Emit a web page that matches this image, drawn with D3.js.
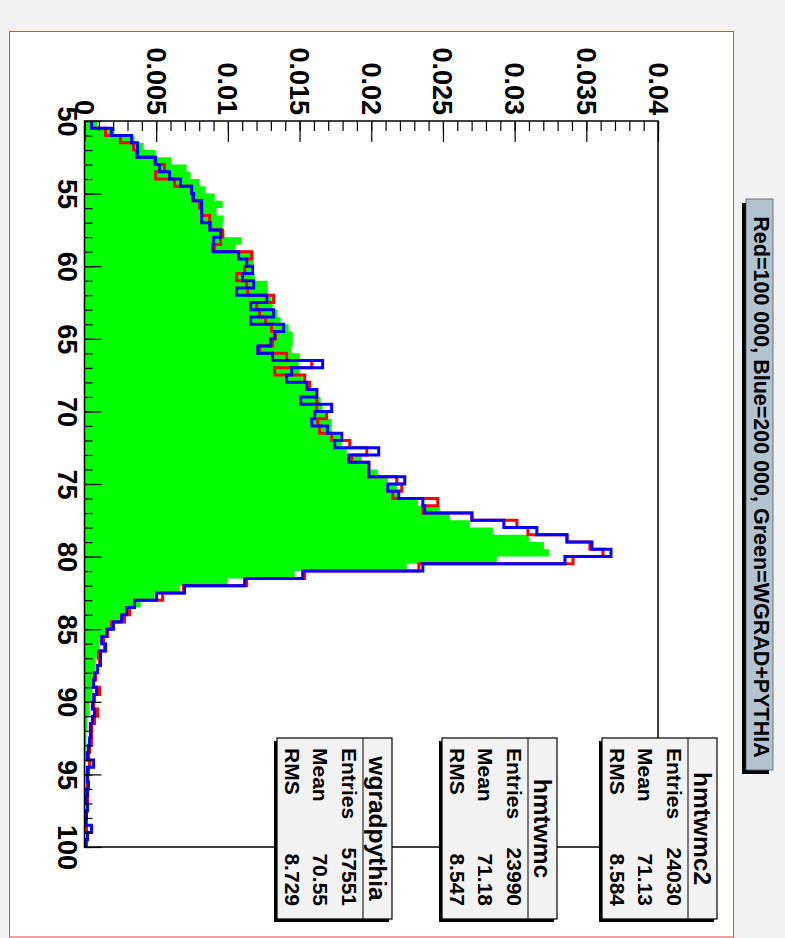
<!DOCTYPE html>
<html>
<head>
<meta charset="utf-8">
<script src="https://cdn.jsdelivr.net/npm/d3@7"></script>
<style>
  html, body { margin: 0; padding: 0; background: #f2f2f2; }
  svg text { font-family: 'Liberation Sans', Arial, Helvetica, sans-serif; font-weight: bold; fill: #000; }
</style>
</head>
<body>
<svg id="chart" width="785" height="938"></svg>
<script>
// ---------- DATA ----------
// 100 bins of width 0.5 from 50 to 100 (lower edges)
const binLow = d3.range(50, 100, 0.5);
const binWidth = 0.5;

// Red = 100 000 (hmtwmc)
const redVals = [
  0.00049, 0.00147, 0.00251, 0.00342, 0.00363, 0.00489, 0.00558, 0.00496, 0.00628, 0.00747,
  0.00754, 0.00803, 0.00817, 0.00873, 0.00880, 0.00963, 0.00949, 0.00908, 0.01166, 0.01131,
  0.01117, 0.01061, 0.01131, 0.01138, 0.01319, 0.01201, 0.01222, 0.01264, 0.01305, 0.01333,
  0.01312, 0.01222, 0.01410, 0.01585, 0.01326, 0.01536, 0.01571, 0.01620, 0.01620, 0.01620,
  0.01689, 0.01627, 0.01640, 0.01724, 0.01850, 0.01969, 0.01864, 0.01983, 0.01983, 0.02178,
  0.02213, 0.02150, 0.02464, 0.02360, 0.02702, 0.03016, 0.03093, 0.03365, 0.03525, 0.03616,
  0.03407, 0.02332, 0.01536, 0.01131, 0.00691, 0.00545, 0.00349, 0.00314, 0.00279, 0.00188,
  0.00161, 0.00133, 0.00140, 0.00098, 0.00105, 0.00091, 0.00077, 0.00063, 0.00105, 0.00070,
  0.00063, 0.00091, 0.00070, 0.00049, 0.00049, 0.00049, 0.00035, 0.00028, 0.00035, 0.00028,
  0.00021, 0.00021, 0.00014, 0.00021, 0.00021, 0.00014, 0.00014, 0.00014, 0.00021, 0.00014
];

// Blue = 200 000 (hmtwmc2)
const blueVals = [
  0.00049, 0.00188, 0.00328, 0.00370, 0.00370, 0.00496, 0.00524, 0.00593, 0.00670, 0.00747,
  0.00761, 0.00817, 0.00817, 0.00817, 0.00873, 0.00949, 0.00901, 0.00894, 0.01075, 0.01131,
  0.01173, 0.01103, 0.01180, 0.01061, 0.01271, 0.01159, 0.01319, 0.01159, 0.01389, 0.01326,
  0.01298, 0.01208, 0.01312, 0.01661, 0.01445, 0.01410, 0.01550, 0.01620, 0.01508, 0.01724,
  0.01606, 0.01585, 0.01696, 0.01794, 0.01745, 0.02052, 0.01843, 0.01983, 0.01983, 0.02234,
  0.02115, 0.02192, 0.02360, 0.02373, 0.02702, 0.02925, 0.03155, 0.03365, 0.03539, 0.03672,
  0.03351, 0.02360, 0.01522, 0.01117, 0.00698, 0.00503, 0.00349, 0.00293, 0.00258, 0.00202,
  0.00154, 0.00119, 0.00147, 0.00112, 0.00112, 0.00091, 0.00070, 0.00063, 0.00084, 0.00063,
  0.00056, 0.00070, 0.00056, 0.00042, 0.00042, 0.00035, 0.00028, 0.00021, 0.00063, 0.00021,
  0.00021, 0.00028, 0.00021, 0.00014, 0.00021, 0.00014, 0.00007, 0.00049, 0.00021, 0.00007
];

// Green = WGRAD+PYTHIA (wgradpythia)
const greenVals = [
  0.00091, 0.00209, 0.00349, 0.00412, 0.00496, 0.00607, 0.00712, 0.00740, 0.00803, 0.00845,
  0.00908, 0.00963, 0.00921, 0.00970, 0.00963, 0.00977, 0.01096, 0.01054, 0.01180, 0.01180,
  0.01173, 0.01187, 0.01277, 0.01277, 0.01305, 0.01312, 0.01347, 0.01368, 0.01424, 0.01452,
  0.01452, 0.01445, 0.01501, 0.01494, 0.01501, 0.01522, 0.01571, 0.01620, 0.01647, 0.01661,
  0.01689, 0.01724, 0.01724, 0.01780, 0.01794, 0.01829, 0.01934, 0.01969, 0.02045, 0.02115,
  0.02178, 0.02199, 0.02325, 0.02478, 0.02548, 0.02688, 0.02848, 0.03099, 0.03204, 0.03239,
  0.02876, 0.02248, 0.01466, 0.00998, 0.00663, 0.00489, 0.00391, 0.00300, 0.00258, 0.00188,
  0.00154, 0.00126, 0.00105, 0.00091, 0.00077, 0.00077, 0.00070, 0.00070, 0.00056, 0.00049,
  0.00035, 0.00035, 0.00021, 0.00021, 0.00014, 0.00014, 0.00014, 0.00014, 0.00007, 0.00007,
  0.00007, 0.00007, 0.00007, 0.00007, 0.00007, 0.00007, 0.00007, 0.00007, 0.00007, 0.00003
];

const valueTicks = [0, 0.005, 0.01, 0.015, 0.02, 0.025, 0.03, 0.035, 0.04];
const valueLabels = ['0', '0.005', '0.01', '0.015', '0.02', '0.025', '0.03', '0.035', '0.04'];
const massTicks = [50, 55, 60, 65, 70, 75, 80, 85, 90, 95, 100];

const statNames = ['hmtwmc2', 'hmtwmc', 'wgradpythia'];
const statEntries = ['24030', '23990', '57551'];
const statMeans = ['71.13', '71.18', '70.55'];
const statRMS = ['8.584', '8.547', '8.729'];

const titleText = 'Red=100 000, Blue=200 000, Green=WGRAD+PYTHIA';

// ---------- CHART ----------
(function draw() {
  const svg = d3.select('#chart');

  // canvas + pad
  svg.append('rect').attr('width', 785).attr('height', 938).attr('fill', '#f2f2f2');
  svg.append('rect')
    .attr('x', 9.5).attr('y', 31.5).attr('width', 724).attr('height', 905.5)
    .attr('fill', '#fff').attr('stroke', '#e04848').attr('stroke-width', 1);

  // rotated frame: value runs left->right, mass runs top->bottom
  const x = d3.scaleLinear().domain([0, 0.04]).range([84.5, 658]);
  const y = d3.scaleLinear().domain([50, 100]).range([121, 847]);

  // doubled points for step shapes
  function steps(vals) {
    const pts = [];
    vals.forEach((v, i) => {
      pts.push({ m: binLow[i], v });
      pts.push({ m: binLow[i] + binWidth, v });
    });
    return pts;
  }

  const area = d3.area()
    .y((d) => y(d.m))
    .x0(x(0))
    .x1((d) => x(d.v));

  const line = d3.line()
    .x((d) => x(d.v))
    .y((d) => y(d.m));

  svg.append('path')
    .datum(steps(greenVals))
    .attr('fill', '#00ff00')
    .attr('d', area);

  svg.append('path')
    .datum(steps(redVals))
    .attr('fill', 'none')
    .attr('stroke', '#ff0000')
    .attr('stroke-width', 3)
    .attr('stroke-linejoin', 'miter')
    .attr('d', line);

  svg.append('path')
    .datum(steps(blueVals))
    .attr('fill', 'none')
    .attr('stroke', '#0000ff')
    .attr('stroke-width', 3)
    .attr('stroke-linejoin', 'miter')
    .attr('d', line);

  // frame
  svg.append('rect')
    .attr('x', x(0)).attr('y', y(50))
    .attr('width', x(0.04) - x(0)).attr('height', y(100) - y(50))
    .attr('fill', 'none').attr('stroke', '#000').attr('stroke-width', 1.5);

  // value axis (top edge, ticks point inward)
  const gx = svg.append('g').attr('transform', `translate(0,${y(50)})`);
  gx.append('g')
    .call(d3.axisTop(x).tickValues(d3.range(0, 0.0405, 0.001)).tickSize(-10).tickFormat(''));
  gx.append('g')
    .call(d3.axisTop(x).tickValues(valueTicks).tickSize(-21)
      .tickFormat((d, i) => valueLabels[i]));
  gx.selectAll('.domain').remove();
  gx.selectAll('line').attr('stroke', '#000').attr('stroke-width', 1.2);
  gx.selectAll('text')
    .attr('x', 0).attr('y', 0).attr('dy', null)
    .attr('text-anchor', 'end')
    .attr('transform', 'translate(-10,-6) rotate(90)')
    .style('font-size', '27px');

  // mass axis (left edge, ticks point inward)
  const gy = svg.append('g').attr('transform', `translate(${x(0)},0)`);
  gy.append('g')
    .call(d3.axisLeft(y).tickValues(d3.range(50, 101, 1)).tickSize(-8).tickFormat(''));
  gy.append('g')
    .call(d3.axisLeft(y).tickValues(massTicks).tickSize(-17).tickFormat(d3.format('d')));
  gy.selectAll('.domain').remove();
  gy.selectAll('line').attr('stroke', '#000').attr('stroke-width', 1.2);
  gy.selectAll('text')
    .attr('x', 0).attr('y', 0).attr('dy', null)
    .attr('text-anchor', 'middle')
    .attr('transform', 'translate(-27,0) rotate(90)')
    .style('font-size', '27px');

  // stat boxes
  const boxLeft = [602, 442, 277];
  const boxTop = 738, boxW = 115, boxH = 181;
  statNames.forEach((name, i) => {
    const bx = boxLeft[i];
    const g = svg.append('g');
    g.append('rect')
      .attr('x', bx - 3).attr('y', boxTop + 3).attr('width', boxW).attr('height', boxH)
      .attr('fill', '#000');
    g.append('rect')
      .attr('x', bx).attr('y', boxTop).attr('width', boxW).attr('height', boxH)
      .attr('fill', '#f2f2f2').attr('stroke', '#000').attr('stroke-width', 1.2);
    g.append('line')
      .attr('x1', bx + 86).attr('x2', bx + 86)
      .attr('y1', boxTop).attr('y2', boxTop + boxH)
      .attr('stroke', '#000').attr('stroke-width', 1);
    g.append('text')
      .attr('transform', `translate(${bx + 92},${boxTop + boxH / 2}) rotate(90)`)
      .attr('text-anchor', 'middle')
      .style('font-size', '24.5px')
      .text(name);
    const rows = [
      ['Entries', statEntries[i], 65],
      ['Mean', statMeans[i], 36],
      ['RMS', statRMS[i], 8],
    ];
    rows.forEach(([lab, val, off]) => {
      g.append('text')
        .attr('transform', `translate(${bx + off},${boxTop + 10}) rotate(90)`)
        .attr('text-anchor', 'start')
        .style('font-size', '21px')
        .text(lab);
      g.append('text')
        .attr('transform', `translate(${bx + off},${boxTop + boxH - 13}) rotate(90)`)
        .attr('text-anchor', 'end')
        .style('font-size', '21px')
        .text(val);
    });
  });

  // title box
  const tg = svg.append('g');
  tg.append('rect')
    .attr('x', 742).attr('y', 203).attr('width', 27).attr('height', 571)
    .attr('fill', '#000');
  tg.append('rect')
    .attr('x', 746).attr('y', 199).attr('width', 27).attr('height', 571)
    .attr('fill', '#b3c3cf').attr('stroke', '#555').attr('stroke-width', 0.8);
  tg.append('text')
    .attr('transform', 'translate(754,487) rotate(90)')
    .attr('text-anchor', 'middle')
    .style('font-size', '21.5px')
    .text(titleText);
})();
</script>
</body>
</html>
